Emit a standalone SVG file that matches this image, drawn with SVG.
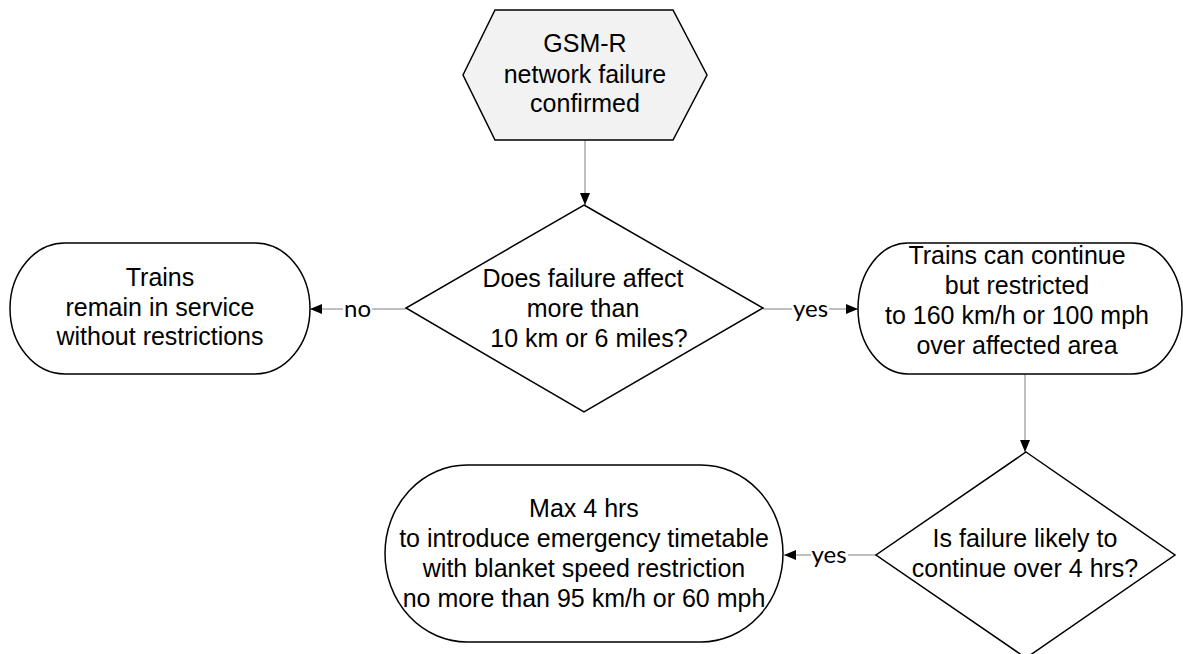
<svg xmlns="http://www.w3.org/2000/svg" width="1183" height="654" viewBox="0 0 1183 654">
<defs>
<style>
.shape{fill:#ffffff;stroke:#000000;stroke-width:1.5}
.start{fill:#f2f2f2;stroke:#000000;stroke-width:1.5}
.t{font-family:"Liberation Sans",Arial,sans-serif;font-size:25px;fill:#000000;text-anchor:middle}
.conn{stroke:#808080;stroke-width:1;fill:none}
.lbl{font-family:Lato,"Open Sans",sans-serif;font-size:24px;fill:#000000;text-anchor:middle}
.lblbg{fill:#ffffff}
</style>
<marker id="arr" viewBox="0 0 12 10" refX="12" refY="5" markerWidth="12" markerHeight="10" markerUnits="userSpaceOnUse" orient="auto">
<path d="M0,0 L12,5 L0,10 Z" fill="#000000"/>
</marker>
</defs>
<rect width="1183" height="654" fill="#ffffff"/>
<g id="connectors">
<path class="conn" d="M585,140 L585,205" marker-end="url(#arr)"/>
<path class="conn" d="M406,309 L310,309" marker-end="url(#arr)"/>
<rect class="lblbg" x="343" y="297" width="29" height="24"/>
<text class="lbl" x="357.5" y="317">no</text>
<path class="conn" d="M763,309 L858,309" marker-end="url(#arr)"/>
<rect class="lblbg" x="792" y="297" width="37" height="24"/>
<text class="lbl" x="810.5" y="317">yes</text>
<path class="conn" d="M876,555 L784,555" marker-end="url(#arr)"/>
<rect class="lblbg" x="811" y="543" width="37" height="24"/>
<text class="lbl" x="829" y="563">yes</text>
<path class="conn" d="M1025,374 L1025,452" marker-end="url(#arr)"/>
</g>
<g id="start">
<polygon class="start" points="463,75 495,10 673,10 707,75 673,140 495,140"/>
<text class="t" x="585" y="52">GSM-R</text>
<text class="t" x="585" y="83">network failure</text>
<text class="t" x="585" y="112">confirmed</text>
</g>
<g id="decision1">
<polygon class="shape" points="584,205 763,308 584,412 406,308"/>
<text class="t" x="583" y="287">Does failure affect</text>
<text class="t" x="583" y="317">more than</text>
<text class="t" x="589" y="347">10 km or 6 miles?</text>
</g>
<g id="no-restrictions">
<rect class="shape" x="10" y="243" width="300" height="131" rx="55" ry="65.5"/>
<text class="t" x="160" y="286">Trains</text>
<text class="t" x="160" y="316">remain in service</text>
<text class="t" x="160" y="345">without restrictions</text>
</g>
<g id="restricted">
<rect class="shape" x="858" y="243" width="324" height="131" rx="50" ry="65.5"/>
<text class="t" x="1017" y="264">Trains can continue</text>
<text class="t" x="1017" y="294">but restricted</text>
<text class="t" x="1017" y="324">to 160 km/h or 100 mph</text>
<text class="t" x="1017" y="354">over affected area</text>
</g>
<g id="decision2">
<polygon class="shape" points="1026,452 1175,555 1026,658 876,555"/>
<text class="t" x="1025" y="547">Is failure likely to</text>
<text class="t" x="1025" y="577">continue over 4 hrs?</text>
</g>
<g id="emergency">
<rect class="shape" x="385" y="465" width="398" height="177" rx="82" ry="88.5"/>
<text class="t" x="584" y="517">Max 4 hrs</text>
<text class="t" x="584" y="547">to introduce emergency timetable</text>
<text class="t" x="584" y="577">with blanket speed restriction</text>
<text class="t" x="584" y="607">no more than 95 km/h or 60 mph</text>
</g>
</svg>
